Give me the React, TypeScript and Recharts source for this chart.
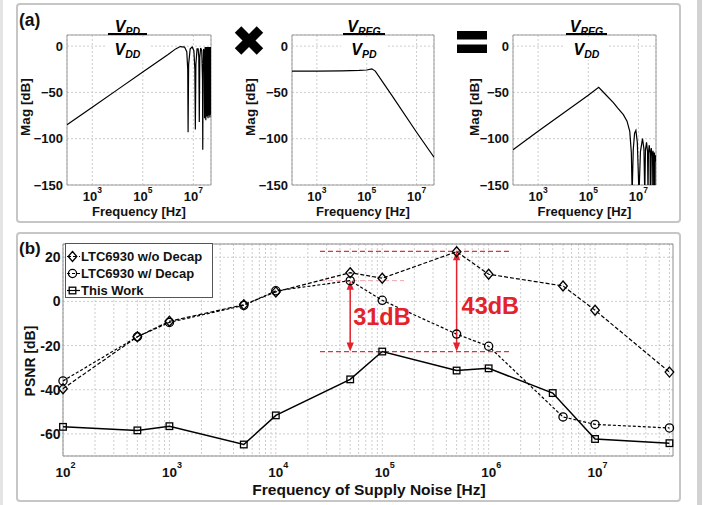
import React from 'react';
import {
  LineChart,
  Line,
  XAxis,
  YAxis,
  CartesianGrid,
  ReferenceLine,
  ReferenceArea,
  Legend,
} from 'recharts';

const FONT = '"Liberation Sans", Arial, Helvetica, sans-serif';
const RED = '#e3222c';

// ---------------- Panel (a) : three Bode magnitude plots ----------------
const bodeTicksX = [1e3, 1e5, 1e7];
const bodeTicksY = [-150, -100, -50, 0];

// V_PD / V_DD  [frequency Hz, magnitude dB]
const pdOverDd: number[][] = [
  [1e2, -85], [1e3, -66], [1e4, -47], [1e5, -28], [1e6, -9], [2e6, -3], [3e6, -0.5],
  [4.5e6, -1], [5.5e6, -6], [6.0e6, -25], [6.2e6, -93], [6.5e6, -20], [7.5e6, -3],
  [9e6, -1], [1.05e7, -5], [1.15e7, -25], [1.2e7, -90], [1.26e7, -20], [1.4e7, -3],
  [1.55e7, -3], [1.65e7, -12], [1.72e7, -82], [1.8e7, -12], [1.95e7, -2], [2.15e7, -5],
  [2.3e7, -35], [2.36e7, -112], [2.43e7, -28], [2.55e7, -3], [2.7e7, -8], [2.78e7, -78],
  [2.86e7, -6], [2.95e7, -1], [3.05e7, -12], [3.12e7, -80], [3.2e7, -8], [3.3e7, -1],
  [3.4e7, -14], [3.47e7, -76], [3.55e7, -6], [3.65e7, -1], [3.75e7, -15], [3.82e7, -78],
  [3.9e7, -5], [4.0e7, -1], [4.1e7, -18], [4.17e7, -75], [4.25e7, -4], [4.35e7, -1],
  [4.45e7, -20], [4.52e7, -77], [4.6e7, -4], [4.7e7, -1], [4.8e7, -22], [4.87e7, -74],
  [4.95e7, -3], [5e7, -1],
];

// V_REG / V_PD
const regOverPd: number[][] = [
  [1e2, -27], [1e3, -27], [1e4, -26.8], [5e4, -26.3], [1e5, -25.8], [1.6e5, -24.5],
  [2.2e5, -27], [1e6, -53], [1e7, -93], [5e7, -120],
];

// V_REG / V_DD
const regOverDd: number[][] = [
  [1e2, -112], [1e3, -92], [1e4, -72.5], [1e5, -53], [2.6e5, -44.5], [5e5, -52.5],
  [1e6, -61], [1.5e6, -67], [2.5e6, -74], [3.5e6, -81], [4.5e6, -92], [5.2e6, -115],
  [5.6e6, -160], [6.2e6, -112], [7e6, -94], [7.9e6, -91], [9e6, -104], [1.05e7, -160],
  [1.2e7, -114], [1.45e7, -100], [1.65e7, -111], [1.78e7, -160], [1.9e7, -112],
  [2.1e7, -104], [2.3e7, -114], [2.4e7, -160], [2.5e7, -115], [2.7e7, -107],
  [2.9e7, -117], [2.97e7, -160], [3.05e7, -117], [3.25e7, -110], [3.45e7, -120],
  [3.52e7, -160], [3.6e7, -119], [3.8e7, -113], [4.0e7, -122], [4.06e7, -160],
  [4.12e7, -121], [4.3e7, -115], [4.5e7, -123], [4.56e7, -160], [4.62e7, -123],
  [4.8e7, -118], [5e7, -125],
];

// ---------------- Panel (b) : PSNR vs supply-noise frequency ----------------
const noiseFreqs = [1e2, 5e2, 1e3, 5e3, 1e4, 5e4, 1e5, 5e5, 1e6, 5e6, 1e7, 5e7];
const workFreqs = [1e2, 5e2, 1e3, 5e3, 1e4, 5e4, 1e5, 5e5, 1e6, 4e6, 1e7, 5e7];
const psnrNoDecap = [-39.5, -16, -9, -1.5, 4.3, 13, 10.5, 22.5, 12.3, 7, -4, -32];
const psnrDecap = [-36, -16, -9.5, -1.8, 4.8, 9.4, 0.5, -14.8, -20.3, -52.3, -55.7, -57.3];
const psnrWork = [-56.8, -58.4, -56.5, -64.8, -51.6, -35.3, -22.7, -31.3, -30.3, -41.5, -62.3, -64.2];
const seriesNames = ['LTC6930 w/o Decap', 'LTC6930 w/ Decap', 'This Work'];
const psnrXTicks = [1e2, 1e3, 1e4, 1e5, 1e6, 1e7];
const psnrYTicks = [-60, -40, -20, 0, 20];
const psnrGridX = [
  1e2, 2e2, 3e2, 4e2, 5e2, 6e2, 7e2, 8e2, 9e2,
  1e3, 2e3, 3e3, 4e3, 5e3, 6e3, 7e3, 8e3, 9e3,
  1e4, 2e4, 3e4, 4e4, 5e4, 6e4, 7e4, 8e4, 9e4,
  1e5, 2e5, 3e5, 4e5, 5e5, 6e5, 7e5, 8e5, 9e5,
  1e6, 2e6, 3e6, 4e6, 5e6, 6e6, 7e6, 8e6, 9e6,
  1e7, 2e7, 3e7, 4e7, 5e7,
];
// red guide lines: [level dB, from Hz, to Hz]
const guideLines: number[][] = [
  [22.7, 2.6e4, 1.6e6],
  [9.4, 2.6e4, 1.6e5],
  [-22.7, 2.6e4, 1.6e6],
];
// gap arrows: [frequency Hz, upper dB, lower dB]
const gapArrows: number[][] = [
  [5e4, 9.4, -22.7],
  [5e5, 22.7, -22.7],
];
const gapLabels = ['31dB', '43dB'];

const toPoints = (fs: number[], vs: number[]) => fs.map((f, i) => ({ f, v: vs[i] }));
const pairsToPoints = (pairs: number[][]) => pairs.map(([f, v]) => ({ f, v }));

// ---------------- helpers ----------------
const PowTick = (props: any) => {
  const { x, y, payload, fs, supFs, base, raise, anchorShift } = props;
  const exp = Math.round(Math.log10(payload.value));
  return (
    <text
      x={x + anchorShift}
      y={y + base}
      textAnchor="middle"
      fontFamily={FONT}
      fontWeight="bold"
      fontSize={fs}
      fill="#111"
    >
      10
      <tspan dy={-raise} fontSize={supFs}>
        {exp}
      </tspan>
    </text>
  );
};

const ValTick = (props: any) => {
  const { x, y, payload, fs, minus } = props;
  const v = payload.value;
  const s = v < 0 ? minus + Math.abs(v) : String(v);
  return (
    <text x={x} y={y + fs * 0.36} textAnchor="end" fontFamily={FONT} fontWeight="bold" fontSize={fs} fill="#111">
      {s}
    </text>
  );
};

function Marker({ kind, cx, cy }: { kind: string; cx: number; cy: number }) {
  if (kind === 'diamond')
    return (
      <polygon
        points={`${cx},${cy - 5} ${cx + 4.3},${cy} ${cx},${cy + 5} ${cx - 4.3},${cy}`}
        fill="none"
        stroke="#000"
        strokeWidth={1.3}
      />
    );
  if (kind === 'circle') return <circle cx={cx} cy={cy} r={4.1} fill="none" stroke="#000" strokeWidth={1.3} />;
  return <rect x={cx - 3.3} y={cy - 3.3} width={6.6} height={6.6} fill="none" stroke="#000" strokeWidth={1.3} />;
}

const markerKinds = ['diamond', 'circle', 'square'];
const markerDash = ['4 2', '3 2', undefined];

const makeDot = (kind: string) => (p: any) => {
  if (p.cx == null || p.cy == null) return <g key={`d-${kind}-${p.index}`} />;
  return (
    <g key={`d-${kind}-${p.index}`}>
      <Marker kind={kind} cx={p.cx} cy={p.cy} />
    </g>
  );
};

const GapArrow = (props: any) => {
  const { x1, y1, y2, text, dx, dy } = props;
  const top = Math.min(y1, y2);
  const bot = Math.max(y1, y2);
  const x = x1;
  const head = 9;
  const hw = 3.6;
  return (
    <g>
      <line x1={x} y1={top + head - 1} x2={x} y2={bot - head + 1} stroke={RED} strokeWidth={1.5} />
      <polygon points={`${x},${top} ${x - hw},${top + head} ${x + hw},${top + head}`} fill={RED} />
      <polygon points={`${x},${bot} ${x - hw},${bot - head} ${x + hw},${bot - head}`} fill={RED} />
      <text x={x + dx} y={(top + bot) / 2 + dy} fontFamily={FONT} fontWeight="bold" fontSize={23.5} fill={RED}>
        {text}
      </text>
    </g>
  );
};

const arrowLabelOffsets = [
  [3, 9],
  [5, 12.4],
];

const renderLegend = () => (
  <div
    style={{
      width: 148,
      height: 55,
      boxSizing: 'border-box',
      border: '1px solid #555',
      background: '#fff',
      paddingTop: 4,
      fontFamily: FONT,
      fontWeight: 'bold',
      fontSize: 13,
      color: '#111',
    }}
  >
    {seriesNames.map((n, i) => (
      <div key={n} style={{ height: 17, display: 'flex', alignItems: 'center' }}>
        <svg width={15} height={17} style={{ display: 'block', flex: 'none' }}>
          <line x1={1} y1={8.5} x2={14} y2={8.5} stroke="#000" strokeWidth={1.2} strokeDasharray={markerDash[i]} />
          <Marker kind={markerKinds[i]} cx={6.5} cy={8.5} />
        </svg>
        <span style={{ lineHeight: '17px', whiteSpace: 'nowrap' }}>{n}</span>
      </div>
    ))}
  </div>
);

// ---------------- Bode subplot ----------------
function BodePlot({
  pairs,
  plotLeft,
  plotWidth,
  yLabelGap,
}: {
  pairs: number[][];
  plotLeft: number;
  plotWidth: number;
  yLabelGap: number;
}) {
  const data = pairsToPoints(pairs);
  const yW = 50;
  return (
    <div style={{ position: 'absolute', left: plotLeft - yW, top: 33 }}>
      <LineChart width={yW + plotWidth + 2} height={192} margin={{ top: 2, right: 2, bottom: 0, left: 0 }}>
        <CartesianGrid stroke="#cdcdcd" strokeDasharray="2 2" />
        <XAxis
          dataKey="f"
          type="number"
          scale="log"
          domain={[100, 5e7]}
          allowDataOverflow
          ticks={bodeTicksX}
          interval={0}
          height={40}
          axisLine={false}
          tickLine={false}
          tickSize={0}
          tickMargin={0}
          tick={(p: any) => <PowTick {...p} fs={13} supFs={8.5} base={16} raise={8.5} anchorShift={0} />}
          label={{
            content: (p: any) => {
              const vb = p.viewBox || { x: yW, y: 152, width: plotWidth, height: 40 };
              return (
                <text
                  x={vb.x + vb.width / 2}
                  y={vb.y + 30.5}
                  textAnchor="middle"
                  fontFamily={FONT}
                  fontWeight="bold"
                  fontSize={13}
                  fill="#111"
                >
                  Frequency [Hz]
                </text>
              );
            },
          }}
        />
        <YAxis
          type="number"
          domain={[-150, 12]}
          allowDataOverflow
          ticks={bodeTicksY}
          interval={0}
          width={yW}
          axisLine={false}
          tickLine={false}
          tickSize={0}
          tickMargin={4}
          tick={(p: any) => <ValTick {...p} fs={13} minus={'\u2212'} />}
          label={{
            content: (p: any) => {
              const vb = p.viewBox || { x: 0, y: 2, width: yW, height: 150 };
              const cx = vb.x + vb.width - yLabelGap + 4.8;
              const cy = vb.y + vb.height / 2 - 3;
              return (
                <text
                  transform={`translate(${cx},${cy}) rotate(-90)`}
                  textAnchor="middle"
                  fontFamily={FONT}
                  fontWeight="bold"
                  fontSize={13.5}
                  fill="#111"
                >
                  Mag [dB]
                </text>
              );
            },
          }}
        />
        <ReferenceArea x1={100} x2={5e7} y1={-150} y2={12} fill="none" stroke="#9c9c9c" strokeWidth={1} ifOverflow="visible" />
        <Line data={data} dataKey="v" stroke="#000" strokeWidth={1.2} dot={false} isAnimationActive={false} />
      </LineChart>
    </div>
  );
}

// ---------------- Panel (b) chart ----------------
function PsnrPlot() {
  const noDecap = toPoints(noiseFreqs, psnrNoDecap);
  const decap = toPoints(noiseFreqs, psnrDecap);
  const work = toPoints(workFreqs, psnrWork);
  return (
    <div style={{ position: 'absolute', left: 0, top: 232 }}>
      <LineChart width={706} height={270} margin={{ top: 12, right: 33, bottom: 0, left: 0 }}>
        <CartesianGrid stroke="#cdcdcd" strokeDasharray="2 2" verticalValues={psnrGridX} />
        <XAxis
          dataKey="f"
          type="number"
          scale="log"
          domain={[100, 5.4e7]}
          ticks={psnrXTicks}
          interval={0}
          height={46}
          axisLine={false}
          tickLine={false}
          tickSize={0}
          tickMargin={0}
          tick={(p: any) => <PowTick {...p} fs={13.5} supFs={9} base={21} raise={9.5} anchorShift={2.5} />}
          label={{
            content: (p: any) => {
              const vb = p.viewBox || { x: 63, y: 224, width: 610, height: 46 };
              return (
                <text
                  x={vb.x + vb.width / 2 + 1}
                  y={vb.y + 39}
                  textAnchor="middle"
                  fontFamily={FONT}
                  fontWeight="bold"
                  fontSize={15.5}
                  fill="#111"
                >
                  Frequency of Supply Noise [Hz]
                </text>
              );
            },
          }}
        />
        <YAxis
          type="number"
          domain={[-70, 26]}
          ticks={psnrYTicks}
          interval={0}
          width={63}
          axisLine={false}
          tickLine={false}
          tickSize={0}
          tickMargin={2.5}
          tick={(p: any) => <ValTick {...p} fs={14} minus="-" />}
          label={{
            content: (p: any) => {
              const vb = p.viewBox || { x: 0, y: 12, width: 63, height: 212 };
              const cx = vb.x + 35;
              const cy = vb.y + vb.height / 2 + 11;
              return (
                <text
                  transform={`translate(${cx},${cy}) rotate(-90)`}
                  textAnchor="middle"
                  fontFamily={FONT}
                  fontWeight="bold"
                  fontSize={14}
                  fill="#111"
                >
                  PSNR [dB]
                </text>
              );
            },
          }}
        />
        <ReferenceArea x1={100} x2={5.4e7} y1={-70} y2={26} fill="none" stroke="#8e8e8e" strokeWidth={1} ifOverflow="visible" />
        {guideLines.map(([lvl, a, b], i) => (
          <ReferenceLine
            key={`g${i}`}
            segment={[
              { x: a, y: lvl },
              { x: b, y: lvl },
            ]}
            stroke={i === 1 ? '#f0a3aa' : '#e5303c'}
            strokeWidth={i === 1 ? 1 : 1.2}
            strokeDasharray="5 3"
            ifOverflow="visible"
          />
        ))}
        <Line
          data={decap}
          dataKey="v"
          name={seriesNames[1]}
          stroke="#000"
          strokeWidth={1.2}
          strokeDasharray={markerDash[1]}
          dot={makeDot('circle')}
          isAnimationActive={false}
        />
        <Line
          data={noDecap}
          dataKey="v"
          name={seriesNames[0]}
          stroke="#000"
          strokeWidth={1.2}
          strokeDasharray={markerDash[0]}
          dot={makeDot('diamond')}
          isAnimationActive={false}
        />
        <Line
          data={work}
          dataKey="v"
          name={seriesNames[2]}
          stroke="#000"
          strokeWidth={1.5}
          dot={makeDot('square')}
          isAnimationActive={false}
        />
        {gapArrows.map(([f, hi, lo], i) => (
          <ReferenceLine
            key={`a${i}`}
            segment={[
              { x: f, y: hi },
              { x: f, y: lo },
            ]}
            ifOverflow="visible"
            shape={(p: any) => (
              <GapArrow {...p} text={gapLabels[i]} dx={arrowLabelOffsets[i][0]} dy={arrowLabelOffsets[i][1]} />
            )}
          />
        ))}
        <Legend
          content={renderLegend}
          layout="horizontal"
          verticalAlign="middle"
          align="center"
          wrapperStyle={{ left: 65, top: 11, width: 148, height: 55 }}
        />
      </LineChart>
    </div>
  );
}

// ---------------- titles (fractions) ----------------
const titleCenters = [127.5, 364, 586.5];
const titleNums = ['PD', 'REG', 'REG'];
const titleDens = ['DD', 'PD', 'DD'];
const titleBarWidths = [39, 42, 41];

function Fraction({ cx, num, den, w }: { cx: number; num: string; den: string; w: number }) {
  const common = { fontFamily: FONT, fontWeight: 'bold' as const, fontStyle: 'italic' as const, fill: '#000' };
  return (
    <g>
      <rect x={cx - w / 2 - 2} y={37} width={w + 4} height={23} fill="#fff" />
      <text x={cx} y={31.5} textAnchor="middle" fontSize={16} {...common}>
        V
        <tspan dy={3} fontSize={10.5}>
          {num}
        </tspan>
      </text>
      <rect x={cx - w / 2} y={33} width={w} height={2} fill="#000" />
      <text x={cx} y={55} textAnchor="middle" fontSize={16} {...common}>
        V
        <tspan dy={3} fontSize={10.5}>
          {den}
        </tspan>
      </text>
    </g>
  );
}

export default function App() {
  return (
    <div
      style={{
        position: 'absolute',
        left: 0,
        top: 0,
        width: 706,
        height: 505,
        background: '#fff',
        overflow: 'hidden',
      }}
    >
      {/* page edges */}
      <div style={{ position: 'absolute', left: 0, top: 0, width: 3, height: 505, background: '#e4e4e4' }} />
      <div style={{ position: 'absolute', left: 697, top: 0, width: 5, height: 505, background: '#d2d2d2' }} />
      {/* panel frames */}
      <div
        style={{
          position: 'absolute',
          left: 16,
          top: 3,
          width: 665,
          height: 220,
          boxSizing: 'border-box',
          border: '2px solid #c6c6c6',
          borderRadius: 4,
        }}
      />
      <div
        style={{
          position: 'absolute',
          left: 16,
          top: 232,
          width: 665,
          height: 270,
          boxSizing: 'border-box',
          border: '2px solid #c6c6c6',
          borderRadius: 4,
        }}
      />

      <BodePlot pairs={pdOverDd} plotLeft={67} plotWidth={144} yLabelGap={42} />
      <BodePlot pairs={regOverPd} plotLeft={292} plotWidth={142} yLabelGap={41.5} />
      <BodePlot pairs={regOverDd} plotLeft={513} plotWidth={143} yLabelGap={39} />

      <PsnrPlot />

      <svg
        width={706}
        height={505}
        style={{ position: 'absolute', left: 0, top: 0, pointerEvents: 'none' }}
      >
        <text x={19} y={26} fontFamily={FONT} fontWeight="bold" fontSize={17.5} fill="#111">
          (a)
        </text>
        <text x={19} y={254} fontFamily={FONT} fontWeight="bold" fontSize={17} fill="#111">
          (b)
        </text>
        {titleCenters.map((cx, i) => (
          <Fraction key={i} cx={cx} num={titleNums[i]} den={titleDens[i]} w={titleBarWidths[i]} />
        ))}
        {/* multiplication sign */}
        <g transform="translate(249,40.5)">
          <rect x={-15.5} y={-4.6} width={31} height={9.2} fill="#000" transform="rotate(45)" />
          <rect x={-15.5} y={-4.6} width={31} height={9.2} fill="#000" transform="rotate(-45)" />
        </g>
        {/* equals sign */}
        <rect x={457} y={31} width={30} height={8.5} fill="#000" />
        <rect x={457} y={44.5} width={30} height={8.5} fill="#000" />
      </svg>
    </div>
  );
}
